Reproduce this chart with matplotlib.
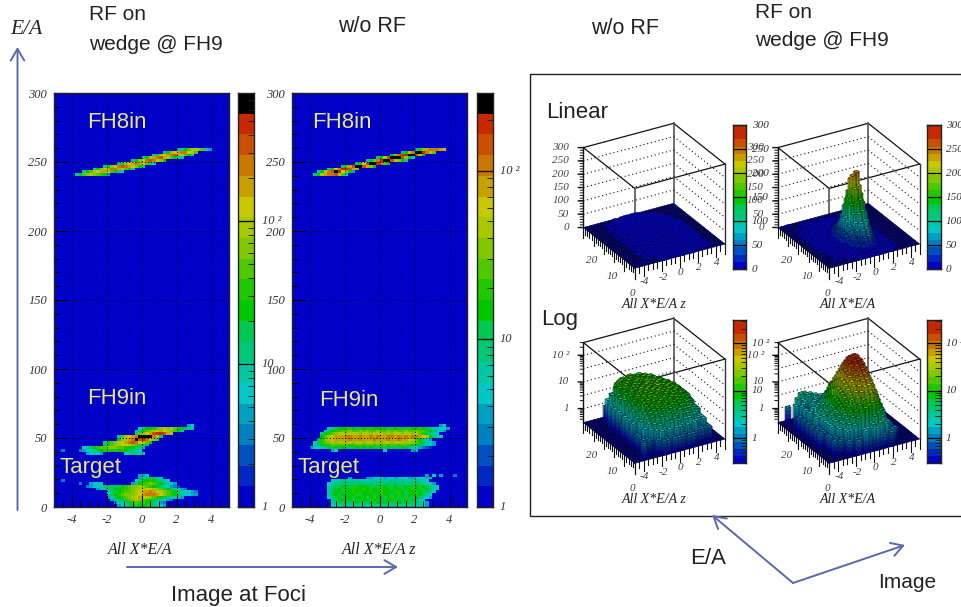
import numpy as np
import matplotlib
matplotlib.use("Agg")
import matplotlib.pyplot as plt
from matplotlib.colors import ListedColormap, BoundaryNorm, to_rgb
from mpl_toolkits.mplot3d import proj3d
from mpl_toolkits.mplot3d.art3d import Poly3DCollection, Line3DCollection

plt.rcParams["axes.unicode_minus"] = False
W, H = 961, 607
SERIF = "Liberation Serif"
SANS = "Liberation Sans"

PALETTE = ["#0000c8", "#0028c0", "#0050c0", "#0080c0", "#00a0c0", "#00c8c8", "#00c8a0",
           "#00c878", "#00c850", "#00c800", "#20c800", "#50c800", "#80c800", "#a8c800",
           "#c8c800", "#c8a000", "#c87800", "#c85000", "#c82800", "#000000"]
LEGO_PALETTE = PALETTE[:19] + [PALETTE[18]]
CODES = "0123456789abcdefghij"

# heat-map bands: (E/A lower edge, first x-bin, colour level per x-bin)
rf_fh8 = [(240, 6, "69bcdcba94"), (242, 8, "79bdeffdb976"), (244, 11, "69cdfggfdb96"),
          (246, 14, "79ceghgfec97"), (248, 18, "7acefgfeb86"), (250, 22, "79ceghgec9"),
          (252, 25, "69dfghfdb976"), (254, 28, "6adefghfdb96"), (256, 31, "79cefggedb"),
          (258, 35, "679bddcb54")]
rf_fh9 = [(58, 38, "45"), (56, 24, "5799abcdcdba9876"), (54, 23, "689bcdefedcb96"),
          (52, 23, "7bcefhiihfd"), (50, 18, "6bdefgjjjjgd8"), (48, 18, "8cdfgjhigecb"),
          (46, 14, "79bcdefghgedb9"), (44, 14, "89bcdeedcba98"), (42, 8, "5679abbcccbba99876"),
          (40, 7, "3456789aa9a9a98765"), (40, 2, "3"), (38, 9, "45654"), (38, 20, "567765")]
rf_target = [(22, 24, "445"), (20, 24, "4678865"), (18, 23, "5799a98765"), (18, 2, "3"),
             (16, 22, "479abcba97654"), (16, 7, "3"), (16, 10, "4555"),
             (14, 9, "34556788889abccdcba98765432"), (12, 12, "4578899aabcdddeedcba986543"),
             (10, 15, "5889abbcdeffgfedcba9765543"), (8, 15, "689abcccdefgggfecba9765544"),
             (6, 15, "4689abcdefedcba9876654"), (4, 16, "4678abcdcba9876543"),
             (2, 17, "45678abab987543"), (0, 18, "45689899a87654")]
norf_fh8 = [(240, 6, "79dfgghdb5"), (242, 7, "69dghjiec94"), (244, 10, "79egiihfc"),
            (246, 14, "8bfhjjhfc9"), (248, 18, "6aehjjigb9"), (250, 21, "68cgijjhdc96"),
            (252, 24, "79dhjjjhc96"), (254, 28, "9cgiijjhd9"), (256, 31, "79dgjjigdb"),
            (258, 35, "6acfgggfd")]
norf_fh9 = [(58, 42, "45"), (56, 10, "57899aa98a9aa99a98a9a8aa99a98765554"),
            (54, 9, "689aabbcbbcbcbbcbbcbcbbcbbcbba97654"),
            (52, 8, "79abcddcdddcddcdddcdcddcddcdba8765"),
            (50, 8, "9bdefffggffgffgfgffggfgfgfggfed9765"),
            (48, 7, "8acdeffffgffgfffgfffgffgffedb9654"),
            (46, 6, "58abcdcddcdcddcddcdcddcdddcdcba8654"),
            (44, 6, "6799abbabbaabbabbabababbabba9987654"),
            (42, 5, "45567889898889898988989888987654321"),
            (40, 11, "45"), (40, 26, "5"), (40, 34, "46")]
norf_target = [(22, 38, "40504"), (22, 46, "3"),
               (20, 16, "4"), (20, 21, "4455645546554465547"),
               (18, 11, "5667667766566676676676677665"),
               (16, 10, "5677778778778687787878677876654"),
               (14, 10, "67889988a9998a8a9889889a89a98765"),
               (12, 10, "6889899a99a9899a99a99899a9889765"),
               (10, 10, "6899899a9a99a99a9998a9899a98875"),
               (8, 10, "68989999a899989a9989a989989865"),
               (6, 10, "5789899899989a9989a98989897654"),
               (4, 11, "789989898998989899898989765"),
               (2, 11, "6788878988798989788988878654"),
               (0, 11, "5667767767577677677677676654")]

# lego contents: counts per bin, rows are E/A bins 0..24, columns X bins -5..5
lego_norf = [
    [0,0,0,0,0,0,0,0,1,1,0,1,1,1,0,1,1,0,0,0,0,0,0,0,0],
    [0,0,0,1,0,0,0,1,2,1,2,1,2,2,1,2,1,2,1,1,1,1,0,0,0],
    [0,0,0,0,0,1,0,2,3,2,4,3,4,3,2,3,3,2,2,1,2,1,0,0,0],
    [0,0,0,0,1,1,2,3,4,5,4,6,5,4,6,4,4,3,3,2,2,1,0,0,0],
    [0,0,0,0,0,2,3,5,6,5,7,6,7,6,5,7,5,5,4,3,2,1,0,0,0],
    [0,0,0,0,1,0,4,6,7,8,7,9,7,8,7,8,6,7,5,4,3,0,0,0,0],
    [0,0,0,0,1,3,5,7,9,8,10,8,9,11,8,9,8,7,6,4,3,1,0,0,0],
    [0,0,0,0,0,2,6,8,8,11,9,10,12,9,11,10,9,8,7,5,3,2,0,0,0],
    [0,0,0,0,2,3,5,9,11,9,12,10,11,13,10,11,9,10,7,6,4,2,0,0,0],
    [0,0,0,0,1,0,7,10,9,12,11,13,11,10,13,11,12,9,8,6,4,2,0,0,0],
    [0,0,0,0,2,4,6,9,12,10,13,11,14,12,11,13,10,11,8,7,5,1,0,0,0],
    [0,0,0,0,0,3,8,11,10,13,11,14,12,13,11,14,11,10,9,7,5,3,0,0,0],
    [0,0,0,0,2,5,6,10,13,11,14,12,13,15,12,11,13,10,9,6,5,2,0,0,0],
    [0,0,0,0,1,2,9,9,11,14,12,13,11,14,13,12,11,11,8,7,4,2,0,0,0],
    [0,0,0,0,0,6,7,11,12,11,13,15,12,11,14,11,12,9,8,6,5,1,0,0,0],
    [0,0,0,0,2,4,8,10,13,12,11,13,14,12,11,13,10,10,7,7,4,2,0,0,0],
    [0,0,0,0,0,5,9,9,11,13,12,11,14,13,12,10,11,9,8,5,3,1,0,0,0],
    [0,0,0,0,2,6,8,12,10,11,14,12,11,13,11,12,9,8,7,5,3,0,0,0,0],
    [0,0,0,0,0,3,9,11,12,10,11,13,12,11,13,10,9,8,6,4,2,0,0,0,0],
    [0,0,0,0,2,0,8,10,11,12,10,12,11,12,10,11,8,7,6,3,1,0,0,0,0],
    [0,0,0,0,0,4,7,11,9,11,12,10,11,10,11,9,8,6,4,2,0,0,0,0,0],
    [0,0,0,0,0,2,0,8,10,9,11,10,9,11,9,8,7,4,2,0,0,0,0,0,0],
    [0,0,0,0,0,2,3,0,7,9,8,10,9,8,8,7,5,3,1,0,0,0,0,0,0],
    [0,0,0,0,0,1,0,2,5,4,6,7,6,7,5,4,2,0,0,0,0,0,0,0,0],
    [0,0,0,0,0,0,0,0,2,0,3,4,3,4,3,0,0,0,0,0,0,0,0,0,0],
]
lego_rf = [
    [0,0,0,0,0,0,0,0,1,0,2,1,3,2,3,1,0,1,0,0,0,0,0,0,0],
    [0,0,0,0,0,0,1,0,1,1,2,2,3,5,6,4,2,1,1,0,0,0,0,0,0],
    [0,0,0,0,1,0,2,2,3,5,8,10,12,14,11,6,3,2,1,1,0,0,0,0,0],
    [0,0,0,1,0,1,2,3,5,8,12,18,26,28,18,9,5,2,1,0,0,0,0,0,0],
    [0,0,0,0,1,2,3,4,7,12,20,30,44,46,30,15,7,3,1,1,0,0,0,0,0],
    [0,0,0,1,1,2,3,5,9,16,28,44,62,68,44,22,9,4,1,0,0,0,0,0,0],
    [0,0,0,1,2,3,4,7,12,22,40,62,86,92,60,30,12,4,2,1,0,0,0,0,0],
    [0,0,0,0,2,3,5,8,15,28,52,84,115,122,84,40,14,5,2,0,0,0,0,0,0],
    [0,0,1,1,2,4,5,9,18,34,68,112,150,158,112,50,18,5,1,1,0,0,0,0,0],
    [0,0,0,1,2,3,6,10,20,40,80,140,195,205,140,58,20,6,2,0,0,0,0,0,0],
    [0,0,1,1,3,4,6,11,22,45,90,165,240,250,165,64,22,7,2,0,0,0,0,0,0],
    [0,0,0,1,2,4,5,10,20,40,82,150,222,232,150,56,20,6,2,1,0,0,0,0,0],
    [0,0,1,2,2,3,5,9,17,32,64,118,170,178,116,44,16,5,2,0,0,0,0,0,0],
    [0,0,0,1,2,3,4,7,13,24,46,80,115,120,78,32,12,4,2,0,0,0,0,0,0],
    [0,0,1,1,2,2,4,6,10,18,32,52,72,76,50,22,9,4,1,1,0,0,0,0,0],
    [0,0,0,2,1,3,3,5,8,13,22,34,44,46,30,15,7,3,2,0,0,0,0,0,0],
    [0,0,1,1,2,2,3,4,6,9,14,20,26,27,18,10,5,3,1,0,0,0,0,0,0],
    [0,0,0,2,0,2,2,3,4,6,9,12,15,15,11,6,4,2,1,0,1,0,0,0,0],
    [0,0,1,0,1,1,2,2,3,4,5,7,8,8,6,4,3,2,0,1,0,0,0,0,0],
    [0,0,0,2,1,0,2,1,2,3,3,4,5,4,4,2,2,1,1,0,0,0,0,0,0],
    [0,0,2,0,2,1,1,2,1,2,2,3,3,3,2,2,1,0,1,0,0,0,0,0,0],
    [0,0,0,3,0,2,3,1,2,2,1,2,2,2,2,1,0,1,0,0,0,0,0,0,0],
    [0,0,0,0,0,2,3,3,2,0,2,1,2,1,0,1,0,0,0,0,0,0,0,0,0],
    [0,0,0,0,0,3,3,2,0,2,0,1,0,0,0,0,0,0,0,0,0,0,0,0,0],
    [0,0,1,0,0,0,0,0,0,0,0,0,0,0,0,0,0,0,0,0,0,0,0,0,0],
]

TEXT_YELLOW = "#e8e878"
ARROW = "#5a68ae"

fig = plt.figure(figsize=(W / 100, H / 100), dpi=100)
cmap = ListedColormap(PALETTE)
norm = BoundaryNorm(np.arange(21), 20)


def rect(x0, y0, x1, y1):
    return [x0 / W, 1 - y1 / H, (x1 - x0) / W, (y1 - y0) / H]


def heat(x0, x1, bands):
    ax = fig.add_axes(rect(x0, 93, x1, 507))
    grid = np.zeros((150, 50))
    for band in bands:
        for y, col, levels in band:
            for i, c in enumerate(levels):
                grid[y // 2, col + i] = CODES.index(c)
    ax.pcolormesh(np.linspace(-5, 5, 51), np.arange(0, 301, 2), grid, cmap=cmap, norm=norm)
    ax.set_xlim(-5, 5)
    ax.set_ylim(0, 300)
    ax.set_xticks([-4, -2, 0, 2, 4])
    ax.set_xticks(np.arange(-5, 5.01, 0.5), minor=True)
    ax.set_yticks(np.arange(0, 301, 50))
    ax.set_yticks(np.arange(0, 301, 10), minor=True)
    ax.tick_params(which="major", direction="in", length=9, width=0.8, color="black",
                   labelsize=9, pad=5)
    ax.tick_params(which="minor", direction="in", length=4, width=0.7, color="black")
    ax.grid(True, which="major", color="black", linestyle=(0, (1, 2.2)), linewidth=0.7)
    for label in ax.get_xticklabels() + ax.get_yticklabels():
        label.set(family=SERIF, style="italic", color="#333333")
    for s in ax.spines.values():
        s.set_linewidth(1.0)
        s.set_color("#222222")
    return ax


def colorbar(x0, x1, y0, y1, vmin, vmax, log, majors, labels, minors, label_x, fs, black_top=True):
    ax = fig.add_axes(rect(x0, y0, x1, y1))
    if log:
        edges = np.logspace(np.log10(vmin), np.log10(vmax), 21)
        ax.set_yscale("log")
    else:
        edges = np.linspace(vmin, vmax, 21)
    colours = PALETTE if black_top else LEGO_PALETTE
    for i in range(20):
        ax.axhspan(edges[i], edges[i + 1], color=colours[i], linewidth=0)
    ax.set_ylim(vmin, vmax)
    ax.set_xlim(0, 1)
    ax.set_xticks([])
    ax.yaxis.tick_right()
    width_pt = (x1 - x0) * 0.72
    ax.set_yticks(majors)
    ax.set_yticklabels([])
    ax.set_yticks(minors, minor=True)
    ax.set_yticklabels([], minor=True)
    ax.tick_params(which="major", direction="in", length=width_pt, width=0.9, color="black")
    ax.tick_params(which="minor", direction="in", length=width_pt * 0.4, width=0.7, color="#222222")
    for s in ax.spines.values():
        s.set_linewidth(1.0)
        s.set_color("#222222")
    for v, t in zip(majors, labels):
        fig.text(label_x / W, ax.transData.transform((0, v))[1] / H, t, family=SERIF, style="italic",
                 fontsize=fs, color="#333333", va="center", ha="left")


heat(54, 229, [rf_fh8, rf_fh9, rf_target])
heat(292, 467, [norf_fh8, norf_fh9, norf_target])

minor_log = [v * d for d in (1, 10, 100) for v in range(2, 10)]
colorbar(238, 254, 93, 507, 1, 785, True, [1, 10, 100], ["1", "10", "10 ²"],
         [m for m in minor_log if m < 785], 262, 9)
colorbar(477, 493, 93, 507, 1, 290, True, [1, 10, 100], ["1", "10", "10 ²"],
         [m for m in minor_log if m < 290], 500, 9)

AZIM, ELEV = -120.2, 27.5
YMAX = 25
BOX = (313, 306, 270)
x_edges = np.linspace(-5, 5, 26)
y_edges = np.linspace(0, 25, 26)


def to_z(v, log):
    return np.log10(v) if log else v


def shade(col, f):
    return tuple(c * f for c in to_rgb(col))


def project(ax, x, y, z):
    px, py, _ = proj3d.proj_transform(x, y, z, ax.get_proj())
    return ax.transData.transform((px, py))


def lego(data, front, log, xlabel):
    """front = pixel (x, y) of the box's nearest bottom corner"""
    ax = fig.add_axes(rect(560, 100, 760, 300), projection="3d", proj_type="ortho", computed_zorder=False)
    ax.set_box_aspect(BOX, zoom=1.0)
    ax.view_init(elev=ELEV, azim=AZIM)
    zmin, zmax = (np.log10(0.3), np.log10(300)) if log else (0, 300)
    ax.set_xlim(-5, 5)
    ax.set_ylim(0, YMAX)
    ax.set_zlim(zmin, zmax)
    ax.set_axis_off()
    ax.patch.set_alpha(0)
    for _ in range(2):
        ax.apply_aspect()
        a = project(ax, -5, 0, zmin)
        b = project(ax, 5, 0, zmin)
        pos = ax.get_position()
        scale = 90.3 / (b[0] - a[0])
        size = pos.width * W * scale
        fx = (a[0] / W - pos.x0) / pos.width
        fy = (a[1] / H - pos.y0) / pos.height
        left = front[0] - fx * size
        bottom = (H - front[1]) - fy * size
        ax.set_position([left / W, bottom / H, size / W, size / H])
    ax.apply_aspect()
    z_rng = zmax - zmin
    zo = 1

    def line(xs, ys, zs, **kw):
        kw.setdefault("color", "#111111")
        kw.setdefault("linewidth", 0.9)
        ax.plot(xs, ys, zs, zorder=zo, **kw)

    for (xa, ya, xb, yb) in [(-5, YMAX, 5, YMAX), (5, YMAX, 5, 0), (5, 0, -5, 0), (-5, 0, -5, YMAX)]:
        line([xa, xb], [ya, yb], [zmax, zmax])
    line([5, 5], [YMAX, YMAX], [zmin, zmax], color="#555555", linewidth=1.2)
    line([-5, -5], [0, 0], [zmin, zmax], color="#555555", linewidth=1.2)
    line([5, 5], [0, 0], [zmin, zmax], color="#333333", linewidth=1.0)
    line([-5, -5], [YMAX, YMAX], [zmin, zmax], color="#111111", linewidth=1.0)
    if log:
        grid_z = [np.log10(v) for v in (1, 3.16, 10, 31.6, 100)]
        ztick_maj = [(np.log10(v), t) for v, t in ((1, "1"), (10, "10"), (100, "10 ²"))]
        ztick_min = [np.log10(v) for v in [0.4, 0.5, 0.6, 0.7, 0.8, 0.9, 2, 3, 4, 5, 6, 7, 8, 9,
                                           20, 30, 40, 50, 60, 70, 80, 90, 200, 300]]
    else:
        grid_z = [50, 100, 150, 200, 250]
        ztick_maj = [(v, str(v)) for v in (0, 50, 100, 150, 200, 250, 300)]
        ztick_min = list(range(0, 301, 10))
    for gz in grid_z:
        line([-5, 5], [YMAX, YMAX], [gz, gz], linestyle=(0, (1, 2.5)), linewidth=0.8)
        line([5, 5], [YMAX, 0], [gz, gz], linestyle=(0, (1, 2.5)), linewidth=0.8)
    for xt in np.arange(-5, 5.01, 0.5):
        long = abs(xt % 2) < 1e-9 or abs(xt) == 5
        line([xt, xt], [0, 0], [zmin, zmin - z_rng * (0.13 if long else 0.07)], linewidth=0.8)
    for yt in np.arange(0, YMAX + 0.1, 1):
        long = yt % 5 == 0
        line([-5, -5], [yt, yt], [zmin, zmin - z_rng * (0.13 if long else 0.07)], linewidth=0.8)
    for zt, _t in ztick_maj:
        line([-5, -5.41], [YMAX, YMAX + 0.62], [zt, zt], linewidth=1.0)
    for zt in ztick_min:
        line([-5, -5.25], [YMAX, YMAX + 0.37], [zt, zt], linewidth=0.7)
    floor = []
    for i in range(25):
        for j in range(25):
            floor.append([(x_edges[i], y_edges[j], zmin), (x_edges[i + 1], y_edges[j], zmin),
                          (x_edges[i + 1], y_edges[j + 1], zmin), (x_edges[i], y_edges[j + 1], zmin)])
    ax.add_collection3d(Poly3DCollection(floor, facecolors="#000080", edgecolors="#000020",
                                         linewidths=0.4, zorder=2), autolim=False)
    bounds = np.linspace(zmin, zmax, 21)
    zo = 3
    for i in range(24, -1, -1):
        for j in range(24, -1, -1):
            v = data[j][i]
            if v <= 0:
                continue
            top_z = min(to_z(v, log), zmax)
            if top_z <= zmin:
                continue
            x0, x1 = x_edges[i], x_edges[i + 1]
            y0, y1 = y_edges[j], y_edges[j + 1]
            faces, cols = [], []
            level = 0
            for k in range(20):
                lo, hi = bounds[k], min(bounds[k + 1], top_z)
                if hi <= lo:
                    break
                level = k
                faces.append([(x0, y0, lo), (x0, y1, lo), (x0, y1, hi), (x0, y0, hi)])
                cols.append(shade(LEGO_PALETTE[k], 0.9))
                faces.append([(x0, y0, lo), (x1, y0, lo), (x1, y0, hi), (x0, y0, hi)])
                cols.append(shade(LEGO_PALETTE[k], 0.68))
            faces.append([(x0, y0, top_z), (x1, y0, top_z), (x1, y1, top_z), (x0, y1, top_z)])
            cols.append(to_rgb(LEGO_PALETTE[level]))
            ax.add_collection3d(Poly3DCollection(faces, facecolors=cols, edgecolors=cols,
                                                 linewidths=0.15, zorder=zo), autolim=False)
            outline = [[(x0, y0, top_z), (x1, y0, top_z)], [(x1, y0, top_z), (x1, y1, top_z)],
                       [(x1, y1, top_z), (x0, y1, top_z)], [(x0, y1, top_z), (x0, y0, top_z)],
                       [(x0, y0, zmin), (x0, y0, top_z)], [(x1, y0, zmin), (x1, y0, top_z)],
                       [(x0, y1, zmin), (x0, y1, top_z)]]
            thin = (not log) and v < 30
            ax.add_collection3d(Line3DCollection(outline, colors="#101010",
                                                 linewidths=0.2 if thin else 0.35,
                                                 zorder=zo + 1), autolim=False)
            zo += 2

    def lab(x, y, z, t, dx, dy, ha="center"):
        ax.annotate(t, xy=proj3d.proj_transform(x, y, z, ax.get_proj())[:2], xytext=(dx, dy),
                    textcoords="offset pixels", family=SERIF, style="italic", fontsize=8,
                    color="#444444", ha=ha, va="center", annotation_clip=False, zorder=100000)

    for xt in (-4, -2, 0, 2, 4):
        lab(xt, 0, zmin, str(xt), 1, -16)
    for yt in (0, 10, 20):
        lab(-5, yt, zmin, str(yt), -2, -25)
    for zt, t in ztick_maj:
        lab(-5, YMAX, zt, t, -14, 0, ha="right")
    ax0_labels.append((front[0] + 19, front[1] + 36, xlabel))


ax0_labels = []
lego(lego_norf, (634.7, 268.3), False, "All X*E/A z")
lego(lego_rf, (829.3, 268.3), False, "All X*E/A")
lego(lego_norf, (634.7, 463.3), True, "All X*E/A z")
lego(lego_rf, (829.3, 463.3), True, "All X*E/A")

linear_vals = [0, 50, 100, 150, 200, 250, 300]
linear_text = [str(v) for v in linear_vals]
log_maj = [1, 10, 100]
log_text = ["1", "10", "10 ²"]
log_minor = [0.4, 0.5, 0.6, 0.7, 0.8, 0.9, 2, 3, 4, 5, 6, 7, 8, 9, 20, 30, 40, 50, 60, 70, 80, 90, 200, 300]
for x0, x1, lx in [(733, 746, 752), (927, 941, 946)]:
    colorbar(x0, x1, 125, 269, 0, 300, False, linear_vals, linear_text, [], lx, 8, black_top=False)
    colorbar(x0, x1, 320, 463, 0.3, 310, True, log_maj, log_text, log_minor, lx, 8, black_top=False)

top = fig.add_axes([0, 0, 1, 1], zorder=200000)
top.set_xlim(0, W)
top.set_ylim(H, 0)
top.axis("off")
top.patch.set_alpha(0)
top.add_patch(plt.Rectangle((529.5, 73.5), 440, 442, fill=False, edgecolor="#222222", linewidth=1.0,
                            zorder=0))


def note(x, y, s, size=14.5, color="#222222", family=SANS, **kw):
    top.text(x, y, s, fontsize=size, color=color, family=family, va="center", **kw)


note(89, 15, "RF on", 15)
note(89, 44, "wedge @ FH9", 15)
note(338, 27, "w/o RF", 15.5)
note(591, 29, "w/o RF", 15.5)
note(755, 13, "RF on", 15)
note(755, 41, "wedge @ FH9", 15)
note(546, 113, "Linear", 16)
note(541, 320, "Log", 16)
note(171, 596, "Image at Foci", 16)
note(690, 559, "E/A", 16)
note(878, 582, "Image", 15)
note(10, 30, "E/A", 15.5, family=SERIF, style="italic")
for x, y, s in [(87, 123, "FH8in"), (87, 398, "FH9in"), (60, 468, "Target"),
                (312, 123, "FH8in"), (319, 400, "FH9in"), (298, 467, "Target")]:
    note(x, y, s, 16, color=TEXT_YELLOW)
note(108, 550, "All X*E/A", 11.5, family=SERIF, style="italic")
note(342, 550, "All X*E/A z", 11.5, family=SERIF, style="italic")
for x, y, s in ax0_labels:
    note(x, y, s, 10, family=SERIF, style="italic", ha="center")


def arrow(a, b):
    top.annotate("", xy=b, xytext=a, arrowprops=dict(arrowstyle="->,head_length=0.6,head_width=0.35",
                                                     mutation_scale=14, color=ARROW, linewidth=1.4,
                                                     shrinkA=0, shrinkB=0))


arrow((17.5, 510), (17.5, 47))
arrow((127, 567), (398, 567))
arrow((793, 583), (712, 515))
arrow((793, 583), (905, 545))

fig.savefig("out.png", dpi=100)
